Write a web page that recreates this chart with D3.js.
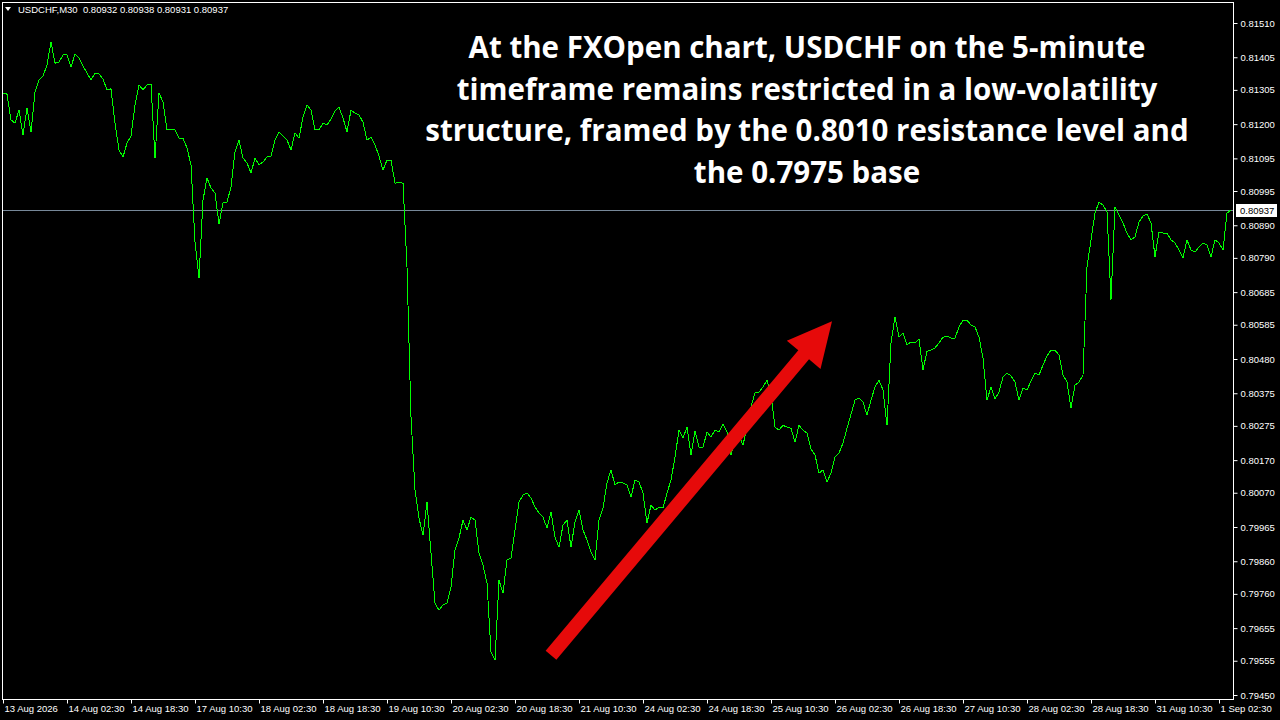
<!DOCTYPE html>
<html><head><meta charset="utf-8">
<script src="https://cdn.jsdelivr.net/npm/d3@7"></script>
<style>html,body{margin:0;padding:0;background:#000;overflow:hidden}</style>
</head><body><svg id="c" width="1280" height="720"></svg>
<script>
// ---------- data ----------
const symbol = "USDCHF,M30";
const ohlc = ["0.80932", "0.80938", "0.80931", "0.80937"];
const currentPrice = 0.80937;

// hourly closes (two M30 bars per value)
const closes = [
0.81295,0.81292,0.81213,0.81203,0.81243,0.81167,0.81249,0.81176,0.81298,0.81335,
0.81347,0.81381,0.81452,0.81387,0.81390,0.81412,0.81412,0.81375,0.81415,0.81403,
0.81378,0.81357,0.81335,0.81357,0.81354,0.81338,0.81305,0.81308,0.81203,0.81121,
0.81099,0.81142,0.81164,0.81259,0.81320,0.81305,0.81320,0.81323,0.81096,0.81295,
0.81268,0.81182,0.81182,0.81182,0.81157,0.81157,0.81127,0.81075,0.80839,0.80728,
0.80967,0.81035,0.81004,0.80989,0.80894,0.80958,0.80961,0.81007,0.81115,0.81151,
0.81096,0.81081,0.81050,0.81096,0.81075,0.81084,0.81099,0.81102,0.81151,0.81176,
0.81164,0.81151,0.81121,0.81173,0.81157,0.81222,0.81259,0.81243,0.81182,0.81182,
0.81203,0.81197,0.81216,0.81240,0.81252,0.81219,0.81176,0.81243,0.81234,0.81228,
0.81206,0.81151,0.81160,0.81136,0.81102,0.81059,0.81090,0.81090,0.81019,0.81022,
0.81019,0.80762,0.80302,0.80078,0.79992,0.79940,0.80041,0.79885,0.79732,0.79710,
0.79726,0.79732,0.79781,0.79894,0.79931,0.79986,0.79956,0.79995,0.79986,0.79885,
0.79848,0.79793,0.79582,0.79557,0.79802,0.79762,0.79864,0.79870,0.79956,0.80041,
0.80063,0.80069,0.80054,0.80026,0.80008,0.79995,0.79962,0.80011,0.79934,0.79903,
0.79971,0.79986,0.79903,0.79980,0.80017,0.79956,0.79925,0.79888,0.79864,0.79986,
0.80023,0.80100,0.80140,0.80094,0.80103,0.80100,0.80094,0.80057,0.80109,0.80103,
0.80069,0.79977,0.80032,0.80017,0.80026,0.80023,0.80069,0.80109,0.80179,0.80262,
0.80238,0.80271,0.80186,0.80259,0.80210,0.80210,0.80256,0.80241,0.80262,0.80256,
0.80281,0.80256,0.80186,0.80232,0.80247,0.80216,0.80271,0.80333,0.80376,0.80379,
0.80394,0.80415,0.80369,0.80271,0.80262,0.80277,0.80271,0.80268,0.80225,0.80277,
0.80262,0.80253,0.80204,0.80186,0.80130,0.80140,0.80103,0.80130,0.80179,0.80192,
0.80222,0.80268,0.80311,0.80354,0.80360,0.80348,0.80308,0.80354,0.80394,0.80415,
0.80385,0.80277,0.80529,0.80609,0.80547,0.80560,0.80523,0.80532,0.80529,0.80541,
0.80446,0.80504,0.80507,0.80514,0.80529,0.80547,0.80550,0.80544,0.80544,0.80578,
0.80599,0.80599,0.80584,0.80578,0.80547,0.80483,0.80354,0.80394,0.80357,0.80379,
0.80425,0.80437,0.80428,0.80409,0.80354,0.80391,0.80385,0.80412,0.80437,0.80431,
0.80461,0.80489,0.80507,0.80507,0.80492,0.80431,0.80409,0.80330,0.80400,0.80409,
0.80431,0.80762,0.80845,0.80927,0.80961,0.80952,0.80931,0.80661,0.80946,0.80921,
0.80897,0.80866,0.80845,0.80854,0.80900,0.80918,0.80924,0.80897,0.80793,0.80869,
0.80866,0.80866,0.80845,0.80836,0.80814,0.80790,0.80845,0.80814,0.80808,0.80823,
0.80836,0.80829,0.80793,0.80845,0.80836,0.80814,0.80927,0.80937
];

const timeLabels = ["13 Aug 2026","14 Aug 02:30","14 Aug 18:30","17 Aug 10:30","18 Aug 02:30",
  "18 Aug 18:30","19 Aug 10:30","20 Aug 02:30","20 Aug 18:30","21 Aug 10:30","24 Aug 02:30",
  "24 Aug 18:30","25 Aug 10:30","26 Aug 02:30","26 Aug 18:30","27 Aug 10:30","28 Aug 02:30",
  "28 Aug 18:30","31 Aug 10:30","1 Sep 02:30"];
const hoursPerLabel = 16;

const priceTicks = [0.81510,0.81405,0.81305,0.81200,0.81095,0.80995,0.80890,0.80790,0.80685,
  0.80585,0.80480,0.80375,0.80275,0.80170,0.80070,0.79965,0.79860,0.79760,0.79655,0.79555,0.79450];

const titleLines = ["At the FXOpen chart, USDCHF on the 5-minute",
  "timeframe remains restricted in a low-volatility",
  "structure, framed by the 0.8010 resistance level and",
  "the 0.7975 base"];

// arrow annotation in (hour index, price)
const arrowFrom = [137, 0.79572];
const arrowTo = [207.25, 0.80596];

// ---------- drawing ----------
const svg = d3.select("#c");
svg.append("rect").attr("width",1280).attr("height",720).attr("fill","#000");

const lastIdx = (closes.length - 1) + 0.5;
const x = d3.scaleLinear().domain([0, lastIdx]).range([3, 3 + 4 * lastIdx]);
const y = d3.scaleLinear().domain([d3.min(priceTicks), d3.max(priceTicks)]).range([695, 23]);

const axisFont = "'Liberation Sans', Arial, sans-serif";

// current price line
const cpY = Math.round(y(currentPrice)) + 0.5;
svg.append("line")
  .attr("x1", 3).attr("x2", 1233)
  .attr("y1", cpY).attr("y2", cpY)
  .attr("stroke", "#778899").attr("stroke-width", 1);

// price line
svg.append("path")
  .datum(closes)
  .attr("fill", "none")
  .attr("stroke", "#00ff00")
  .attr("stroke-width", 1)
  .attr("shape-rendering", "crispEdges")
  .attr("d", d3.line().x((d, i) => x(i)).y(d => y(d)));

// frame
svg.append("rect")
  .attr("x", 2.5).attr("y", 2.5).attr("width", 1231).attr("height", 697)
  .attr("fill", "none").attr("stroke", "#fff").attr("stroke-width", 1);

// right axis
const gy = svg.append("g").attr("transform", "translate(1233.5,0)")
  .call(d3.axisRight(y).tickValues(priceTicks).tickFormat(d3.format(".5f")).tickSize(4).tickPadding(3));
gy.select(".domain").remove();
gy.selectAll("line").attr("stroke", "#fff");
gy.selectAll("text").attr("fill", "#fff").style("font-family", axisFont).style("font-size", "9.5px");

// bottom axis
const gx = svg.append("g").attr("transform", "translate(0,699.5)")
  .call(d3.axisBottom(x).tickValues(timeLabels.map((_, i) => i * hoursPerLabel))
    .tickFormat((d, i) => timeLabels[i]).tickSize(4).tickPadding(2));
gx.select(".domain").remove();
gx.selectAll("line").attr("stroke", "#fff");
gx.selectAll("text").attr("fill", "#fff").attr("text-anchor", "start").attr("dx", "1")
  .style("font-family", axisFont).style("font-size", "9.5px");

// current price box
svg.append("rect").attr("x", 1236).attr("y", cpY - 6.5).attr("width", 41).attr("height", 13).attr("fill", "#fff");
svg.append("text").attr("x", 1240).attr("y", cpY + 3.5).text(d3.format(".5f")(currentPrice))
  .attr("fill", "#000").style("font-family", axisFont).style("font-size", "9.5px");

// header
svg.append("path").attr("d", "M5,7 L11,7 L8,11 Z").attr("fill", "#fff");
svg.append("text").attr("x", 18).attr("y", 13)
  .text(symbol + "\u00a0\u00a0" + ohlc.join(" "))
  .attr("fill", "#fff").style("font-family", axisFont).style("font-size", "9.5px");

// title
const title = svg.append("text").attr("text-anchor", "middle")
  .attr("fill", "#fff").style("font-family", "'Open Sans', sans-serif")
  .style("font-weight", 700).style("font-size", "29.5px");
titleLines.forEach((t, i) => {
  title.append("tspan").attr("x", 807).attr("y", 58 + i * 41.6).text(t);
});

// arrow
(function () {
  const x0 = x(arrowFrom[0]), y0 = y(arrowFrom[1]);
  const x1 = x(arrowTo[0]), y1 = y(arrowTo[1]);
  const dx = x1 - x0, dy = y1 - y0, L = Math.hypot(dx, dy);
  const ux = dx / L, uy = dy / L, nx = -uy, ny = ux;
  const sw = 7, hw = 22, hl = 44;
  const bx = x1 - ux * hl, by = y1 - uy * hl;
  const pts = [
    [x0 + nx * sw, y0 + ny * sw], [bx + nx * sw, by + ny * sw], [bx + nx * hw, by + ny * hw],
    [x1, y1], [bx - nx * hw, by - ny * hw], [bx - nx * sw, by - ny * sw], [x0 - nx * sw, y0 - ny * sw]
  ];
  svg.append("polygon").attr("points", pts.map(p => p.join(",")).join(" ")).attr("fill", "#e60a0a");
})();
</script></body></html>
